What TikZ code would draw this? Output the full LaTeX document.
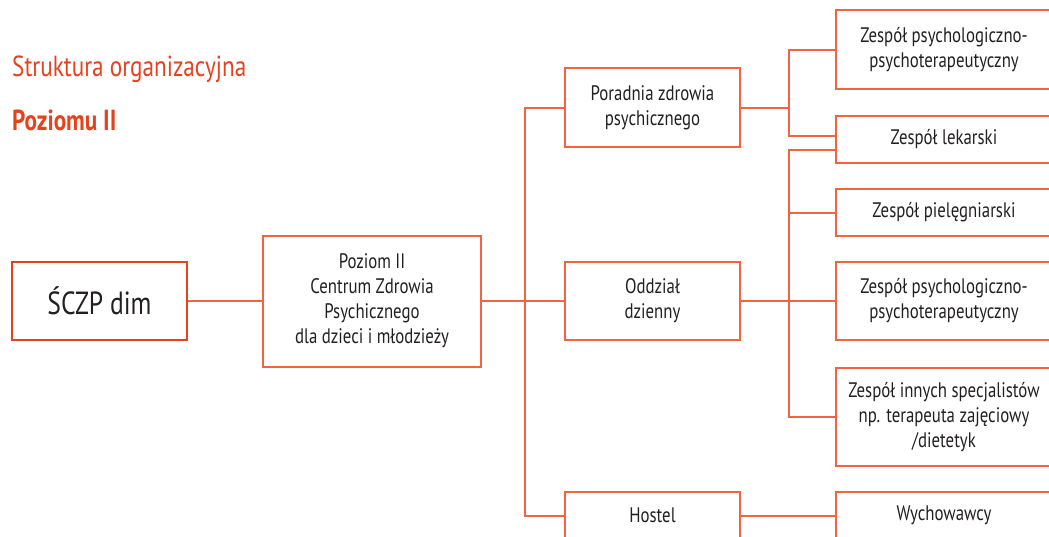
\documentclass[tikz,border=0pt]{standalone}
\usepackage{fontspec}
\setmainfont[FakeStretch=0.8]{PT Sans}
\definecolor{lineorange}{HTML}{F1643F}
\definecolor{titlered}{HTML}{E5421E}
\definecolor{textgray}{HTML}{231F20}
\begin{document}
\begin{tikzpicture}[x=1pt,y=-1pt,
    unit/.style={draw=lineorange, line width=2pt, inner sep=0pt, align=center,
      text=textgray, font=\fontsize{21}{25}\selectfont},
    mid/.style={unit, minimum width=175pt},
    team/.style={unit, minimum width=216pt},
    link/.style={draw=lineorange, line width=2pt}]
    \useasboundingbox (0,0) rectangle (1049,536);

    \node[anchor=base west, inner sep=0pt, text=titlered, font=\fontsize{29}{30}\selectfont] (title) at (12,76) {Struktura organizacyjna};
    \node[anchor=base west, inner sep=0pt, text=titlered, font=\fontsize{29}{30}\selectfont\bfseries] (level) at (12,130) {Poziomu II};

    \node[unit, draw=titlered, line width=2.6pt, minimum width=175pt, minimum height=78pt, font=\fontsize{32}{36}\selectfont] (sczp) at (99.5,301) {ŚCZP dim};
    \node[unit, minimum width=218pt, minimum height=131pt] (centrum) at (372,301) {Poziom II\\Centrum Zdrowia\\Psychicznego\\dla dzieci i młodzieży};

    \node[mid, minimum height=79pt] (poradnia) at (652.5,107.5) {Poradnia zdrowia\\psychicznego};
    \node[mid, minimum height=78pt] (oddzial) at (652.5,301) {Oddział\\dzienny};
    \node[mid, minimum height=47pt] (hostel) at (652.5,515.5) {Hostel};

    \node[team, minimum height=79pt] (psych1) at (944,49.5) {Zespół psychologiczno-\\psychoterapeutyczny};
    \node[team, minimum height=47pt] (lekarski) at (944,139.5) {Zespół lekarski};
    \node[team, minimum height=47pt] (pielegn) at (944,212.5) {Zespół pielęgniarski};
    \node[team, minimum height=78pt] (psych2) at (944,301) {Zespół psychologiczno-\\psychoterapeutyczny};
    \node[team, minimum height=98pt] (inni) at (944,417) {Zespół innych specjalistów\\np. terapeuta zajęciowy\\/dietetyk};
    \node[team, minimum height=47pt] (wych) at (944,515.5) {Wychowawcy};

    \coordinate (busA) at (525,301);
    \coordinate (busB) at (789,107.5);
    \coordinate (busC) at (789,301);

    \draw[link] (sczp) -- (centrum);
    \draw[link] (centrum) -- (oddzial);
    \draw[link] (poradnia.west) -| (busA) |- (hostel.west);
    \draw[link] (poradnia) -- (busB);
    \draw[link] (psych1.west) -| (busB) |- ([yshift=3.5pt]lekarski.west);
    \draw[link] ([yshift=-10pt]lekarski.west) -| (busC) |- (inni.west);
    \draw[link] (oddzial) -- (psych2);
    \draw[link] (busC |- pielegn.west) -- (pielegn.west);
    \draw[link] (hostel) -- (wych);
\end{tikzpicture}
\end{document}
